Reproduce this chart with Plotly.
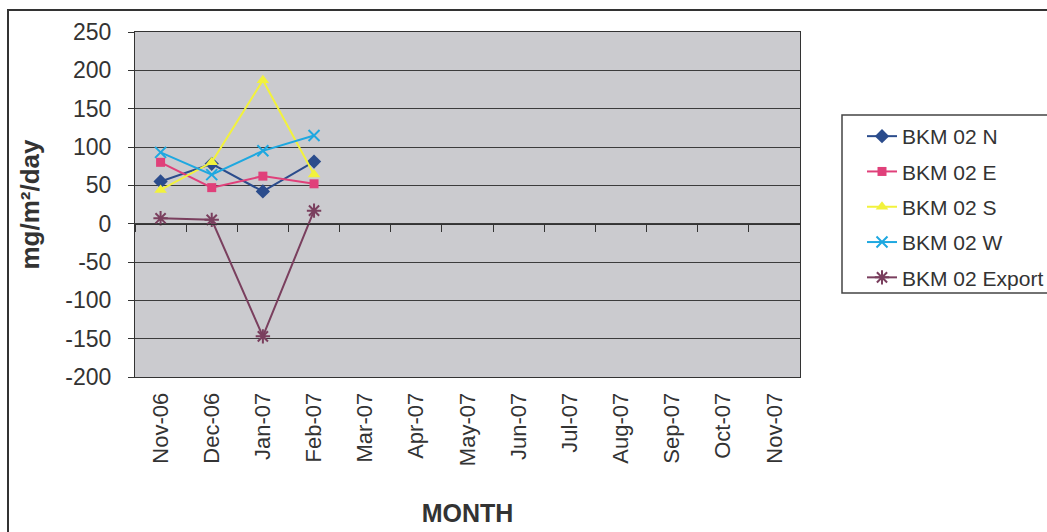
import plotly.graph_objects as go

months = ["Nov-06", "Dec-06", "Jan-07", "Feb-07", "Mar-07", "Apr-07", "May-07",
          "Jun-07", "Jul-07", "Aug-07", "Sep-07", "Oct-07", "Nov-07"]
measured = months[:4]

bkm_n = [55, 78, 42, 81]
bkm_e = [80, 47, 62, 52]
bkm_s = [44, 80, 187, 64]
bkm_w = [93, 64, 95, 115]
bkm_export = [7, 5, -147, 17]

y_tick_values = [-200, -150, -100, -50, 0, 50, 100, 150, 200, 250]
y_tick_labels = ["-200", "-150", "-100", "-50", "0", "50", "100", "150", "200", "250"]

series = [
    ("BKM 02 N", bkm_n, "#2b4c8c", "diamond", 11, 0),
    ("BKM 02 E", bkm_e, "#e0407a", "square", 9, 0),
    ("BKM 02 S", bkm_s, "#f2f23c", "triangle-up", 11, 0),
    ("BKM 02 W", bkm_w, "#1ea8e0", "x-thin-open", 11, 2),
    ("BKM 02 Export", bkm_export, "#7a3f5e", "asterisk-open", 12, 2),
]

fig = go.Figure()
for i, (name, vals, col, sym, sz, lw) in enumerate(series):
    marker = dict(symbol=sym, size=sz, color=col)
    if lw:
        marker["line"] = dict(color=col, width=lw)
    fig.add_trace(go.Scatter(
        x=measured, y=vals, name=name, mode="lines+markers",
        line=dict(color=col, width=2), marker=marker,
        legendgroup=f"g{i}", xaxis="x", yaxis="y",
    ))

# invisible trace on overlay axis to carry zero-line ticks
fig.add_trace(go.Scatter(x=months, y=[None] * len(months), xaxis="x2", yaxis="y",
                         showlegend=False, hoverinfo="skip", mode="lines"))

W, H = 1047, 532
L, R, T, B = 135, 800, 32, 377
pw, ph = R - L, B - T
ymin, ymax = -200, 250

def px_x(x):
    return (x - L) / pw

def px_y(y):
    return (B - y) / ph

fig.update_layout(
    width=W, height=H,
    margin=dict(l=L, r=W - R, t=T, b=H - B, pad=0, autoexpand=False),
    paper_bgcolor="white",
    plot_bgcolor="#cbcbcf",
    font=dict(family="Liberation Sans, Arial, sans-serif", color="#333333"),
    xaxis=dict(
        type="category", categoryorder="array", categoryarray=months,
        range=[-0.5, len(months) - 0.5],
        tickangle=-90, tickfont=dict(size=22, color="#333333"),
        ticklabelstandoff=6,
        showgrid=False, ticks="", showline=True, linecolor="#333333", linewidth=1,
        mirror=True, zeroline=False,
        title=dict(text="<b>MONTH</b>", font=dict(size=25, color="#333333"), standoff=39),
    ),
    xaxis2=dict(
        type="category", categoryorder="array", categoryarray=months,
        range=[-0.5, len(months) - 0.5],
        overlaying="x", anchor="free", position=(0 - ymin) / (ymax - ymin),
        showticklabels=False, ticks="outside", tickson="boundaries",
        ticklen=7, tickcolor="#333333", tickwidth=1,
        showline=True, linecolor="#333333", linewidth=1, showgrid=False, zeroline=False,
    ),
    yaxis=dict(
        range=[ymin, ymax], tickmode="array",
        tickvals=y_tick_values, ticktext=y_tick_labels,
        tickfont=dict(size=23, color="#333333"),
        showgrid=True, gridcolor="#3c3c3c", gridwidth=1.3,
        ticks="outside", ticklen=6, tickcolor="#333333",
        showline=True, linecolor="#333333", linewidth=1, mirror=True,
        zeroline=False, ticklabelstandoff=12,
        title=dict(text="<b>mg/m²/day</b>", font=dict(size=26, color="#333333"), standoff=18),
    ),
    legend=dict(
        xref="container", yref="container",
        x=862 / W, y=1 - 116 / H, xanchor="left", yanchor="top",
        borderwidth=0, bgcolor="rgba(0,0,0,0)",
        font=dict(size=21, color="#333333"), tracegroupgap=5,
    ),
    showlegend=True,
)

# legend frame
fig.add_shape(type="rect", xref="paper", yref="paper",
              x0=px_x(842), x1=px_x(1080), y0=px_y(293), y1=px_y(115),
              line=dict(color="#444444", width=1.5), layer="below")

# outer chart frame
fig.add_shape(type="rect", xref="paper", yref="paper",
              x0=px_x(8), x1=px_x(1100), y0=px_y(560), y1=px_y(10),
              line=dict(color="#333333", width=2), layer="below")

fig.write_html(
    "out.html",
    config={"displayModeBar": False},
    post_script="document.body.style.margin='0';document.body.style.overflow='hidden';",
)
